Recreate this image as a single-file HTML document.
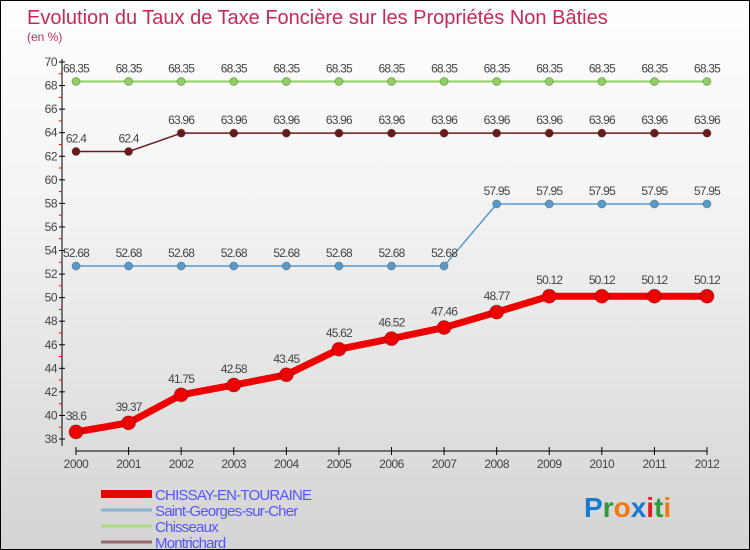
<!DOCTYPE html>
<html><head><meta charset="utf-8"><style>
body{margin:0}
#c{position:relative;width:750px;height:550px;box-sizing:border-box;border:1px solid #000;background:linear-gradient(#ffffff,#f2f2f2 40%,#d4d4d4);font-family:"Liberation Sans",sans-serif;overflow:hidden}
svg{position:absolute;left:0;top:0}
</style></head><body>
<div id="c">
<svg width="750" height="550" id="s">
<text x="26" y="23" font-size="20" fill="#c8285a">Evolution du Taux de Taxe Foncière sur les Propriétés Non Bâties</text>
<text x="26" y="40" font-size="12" fill="#c8285a">(en %)</text>
<g id="axes"></g><g id="series"></g><g id="legend"></g>
<text x="583" y="516" font-size="28" font-weight="bold"><tspan fill="#1a7ad0">P</tspan><tspan fill="#2a9a3a">r</tspan><tspan fill="#f07a10">o</tspan><tspan fill="#1a7ad0">x</tspan><tspan fill="#e02020">i</tspan><tspan fill="#2a9a3a">t</tspan><tspan fill="#f07a10">i</tspan></text>
</svg>
</div>
<script>
const years=[2000,2001,2002,2003,2004,2005,2006,2007,2008,2009,2010,2011,2012];
const chissay=[38.6,39.37,41.75,42.58,43.45,45.62,46.52,47.46,48.77,50.12,50.12,50.12,50.12];
const stgeorges=[52.68,52.68,52.68,52.68,52.68,52.68,52.68,52.68,57.95,57.95,57.95,57.95,57.95];
const chisseaux=[68.35,68.35,68.35,68.35,68.35,68.35,68.35,68.35,68.35,68.35,68.35,68.35,68.35];
const montrichard=[62.4,62.4,63.96,63.96,63.96,63.96,63.96,63.96,63.96,63.96,63.96,63.96,63.96];
const yTicks=[38,40,42,44,46,48,50,52,54,56,58,60,62,64,66,68,70];
const NS="http://www.w3.org/2000/svg";
const X=i=>75+i*(706-75)/(years.length-1);
const Y=v=>438-(v-38)*(438-61)/32;
function mk(t,a,p){const e=document.createElementNS(NS,t);for(const k in a)e.setAttribute(k,a[k]);p.appendChild(e);return e;}
const ax=document.getElementById('axes');
const yl=mk('line',{x1:61,y1:58,x2:61,y2:445,stroke:'#000'},ax);


const xl=mk('line',{x1:75,y1:450,x2:706,y2:450,stroke:'#000'},ax);


yTicks.forEach(v=>{
 mk('line',{x1:58,x2:64,y1:Y(v),y2:Y(v),stroke:'#000'},ax);
 if(v<70) mk('line',{x1:58,x2:61,y1:Y(v+1),y2:Y(v+1),stroke:'#e00'},ax);
 const t=mk('text',{x:56,y:Y(v)+4,'font-size':12,'text-anchor':'end',fill:'#444','letter-spacing':'-0.5'},ax);
 t.textContent=v;
 
 
});
years.forEach((y,i)=>{
 mk('line',{x1:X(i),x2:X(i),y1:446,y2:454,stroke:'#000'},ax);
 const t=mk('text',{x:X(i),y:467,'font-size':12,'text-anchor':'middle',fill:'#444','letter-spacing':'-0.5'},ax);
 t.textContent=y;
 
 
});
const sg=document.getElementById('series');
function draw(vals,color,w,r,name,lblDy){
 const g=mk('g',{},sg);
 
 
 mk('polyline',{points:vals.map((v,i)=>X(i)+','+Y(v)).join(' '),fill:'none',stroke:color,'stroke-width':w,'stroke-linejoin':'round'},g);
 vals.forEach((v,i)=>{
  const c=mk('circle',{cx:X(i),cy:Y(v),r:r,fill:color,stroke:'rgba(0,0,0,0.25)'},g);
  
  
  const t=mk('text',{x:X(i),y:Y(v)+lblDy,'font-size':12,'text-anchor':'middle',fill:'#444','letter-spacing':'-0.8'},g);
  t.textContent=v;
  
  
 });
}
draw(chisseaux,'#8fd060',2,4,'series-chisseaux',-9);
draw(montrichard,'#6a1a1a',1.5,4,'series-montrichard',-9);
draw(stgeorges,'#5a9acb',1.5,4,'series-saint-georges',-9);
draw(chissay,'#ee0000',7,7,'series-chissay',-12);
const lg=document.getElementById('legend');
const items=[['CHISSAY-EN-TOURAINE','#ee0000',8],['Saint-Georges-sur-Cher','#8ab4d4',3],['Chisseaux','#a8dc80',3],['Montrichard','#9a6a6a',3]];
items.forEach((it,i)=>{
 const y=493+i*16;
 const g=mk('g',{},lg);
 
 
 mk('line',{x1:100,x2:151,y1:y,y2:y,stroke:it[1],'stroke-width':it[2]},g);
 const t=mk('text',{x:154,y:y+6,'font-size':15,fill:'#5555ff','letter-spacing':'-0.8'},g);
 t.textContent=it[0];
});
</script>
</body></html>
